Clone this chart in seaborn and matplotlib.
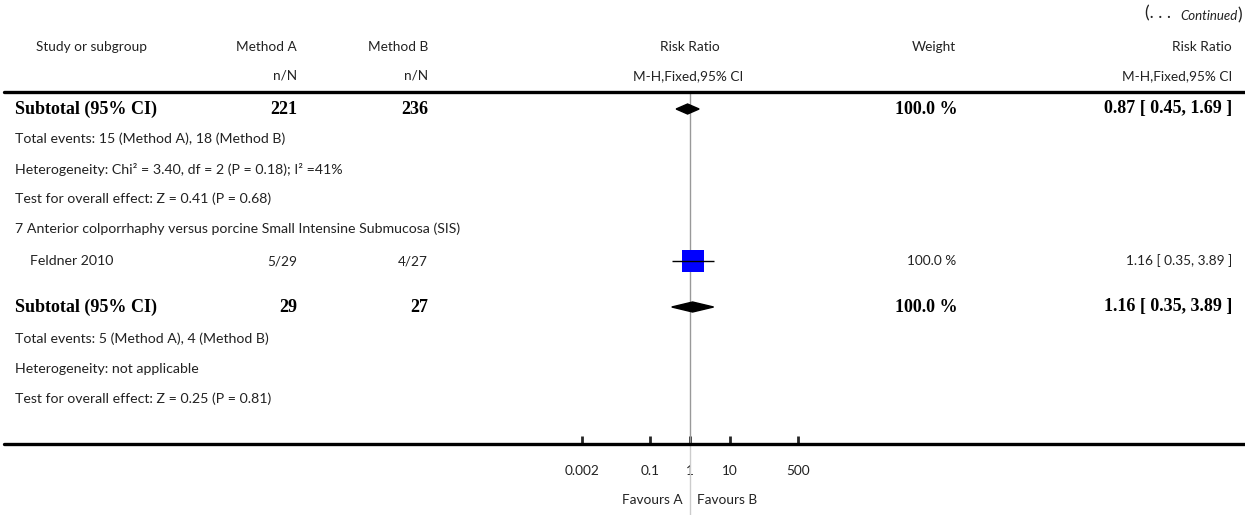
import matplotlib
matplotlib.use("Agg")
import matplotlib.pyplot as plt
import seaborn as sns
import pandas as pd
from matplotlib.lines import Line2D
from matplotlib.text import Annotation

# data
subtotal_labels = ["Subtotal (95% CI)", "Subtotal (95% CI)"]
subtotal_total_a = ["221", "29"]
subtotal_total_b = ["236", "27"]
subtotal_weight = ["100.0 %", "100.0 %"]
subtotal_rr = [0.87, 1.16]
subtotal_lo = [0.45, 0.35]
subtotal_hi = [1.69, 3.89]

study_names = ["Feldner 2010"]
study_a = ["5/29"]
study_b = ["4/27"]
study_weight = ["100.0 %"]
study_rr = [1.16]
study_lo = [0.35]
study_hi = [3.89]

summary_lines_1 = [
    "Total events: 15 (Method A), 18 (Method B)",
    "Heterogeneity: Chi\u00b2 = 3.40, df = 2 (P = 0.18); I\u00b2 =41%",
    "Test for overall effect: Z = 0.41 (P = 0.68)",
]
group_title = "7 Anterior colporrhaphy versus porcine Small Intensine Submucosa (SIS)"
summary_lines_2 = [
    "Total events: 5 (Method A), 4 (Method B)",
    "Heterogeneity: not applicable",
    "Test for overall effect: Z = 0.25 (P = 0.81)",
]
tick_values = [0.002, 0.1, 1, 10, 500]
tick_labels = ["0.002", "0.1", "1", "10", "500"]

W, H = 1245, 515
sns.set_style("white")
plt.rcParams["font.family"] = ["Lato", "DejaVu Sans"]

SANS = dict(family=["Lato", "DejaVu Sans"], fontsize=9.8, color="#222222")
BODY = dict(SANS, fontsize=10.2)
SERIF = dict(family=["Liberation Serif", "DejaVu Serif"], fontsize=13,
             fontweight="bold", color="black")

fig = plt.figure(figsize=(W / 100, H / 100), dpi=100)


def txt(x, y, s, ha="left", style=SANS):
    return fig.text(x / W, 1 - y / H, s, ha=ha, va="center", **style)


def hline(y, lw=2.4):
    fig.add_artist(Line2D([0.003, 1], [1 - y / H, 1 - y / H],
                          transform=fig.transFigure, color="black", lw=lw))


# "(... Continued)" marker, chained right to left
paren = txt(1242, 15, ")", ha="right", style=dict(SANS, fontsize=12.5))
cont = fig.add_artist(Annotation(
    "Continued", xy=(0, 0.22), xycoords=paren, ha="right", va="baseline",
    family=["Lato"], fontsize=9.5, style="italic", color="#222222"))
fig.add_artist(Annotation(
    "(. . .  ", xy=(0, 0.22), xycoords=cont, ha="right", va="baseline",
    family=["Lato"], fontsize=12.5, color="#222222"))

# header
txt(92, 47, "Study or subgroup", ha="center")
txt(297, 47, "Method A", ha="right")
txt(297, 76, "n/N", ha="right")
txt(428, 47, "Method B", ha="right")
txt(428, 76, "n/N", ha="right")
txt(690, 47, "Risk Ratio", ha="center")
txt(688, 76, "M-H,Fixed,95% CI", ha="center")
txt(956, 47, "Weight", ha="right")
txt(1232, 47, "Risk Ratio", ha="right")
txt(1232, 76, "M-H,Fixed,95% CI", ha="right")
hline(92)
hline(444)

# forest axes: 40 px per decade, 1 at x=690
ax_l, ax_r, ax_t, ax_b = 570, 810, 92, 444
ax = fig.add_axes([ax_l / W, 1 - ax_b / H, (ax_r - ax_l) / W, (ax_b - ax_t) / H])
ax.set_xscale("log")
ax.set_xlim(1e-3, 1e3)
ax.set_ylim(ax_b, ax_t)
for s in ax.spines.values():
    s.set_visible(False)
ax.set_yticks([])
ax.set_xticks(tick_values)
ax.set_xticklabels(tick_labels)
ax.xaxis.set_minor_locator(matplotlib.ticker.NullLocator())
ax.tick_params(axis="x", direction="in", length=6, width=2, pad=15,
               labelsize=9.8, labelcolor="#222222", bottom=True)
for lab in ax.get_xticklabels():
    lab.set_family(["Lato", "DejaVu Sans"])
ax.patch.set_alpha(0)

ax.axvline(1, color="#999999", lw=1, zorder=1)
ax.plot([1, 1], [ax_b, H], color="#cccccc", lw=1, clip_on=False, zorder=1)

# rows
sub_y = [109, 307]
study_y = [261]

for i, y in enumerate(sub_y):
    txt(15, y, subtotal_labels[i], style=SERIF)
    txt(297, y, subtotal_total_a[i], ha="right", style=SERIF)
    txt(428, y, subtotal_total_b[i], ha="right", style=SERIF)
    txt(958, y, subtotal_weight[i], ha="right", style=SERIF)
    txt(1232, y, f"{subtotal_rr[i]:.2f} [ {subtotal_lo[i]:.2f}, {subtotal_hi[i]:.2f} ]",
        ha="right", style=SERIF)
    ax.fill([subtotal_lo[i], subtotal_rr[i], subtotal_hi[i], subtotal_rr[i]],
            [y, y - 5, y, y + 5], color="black", zorder=3)

for lines, y0 in [(summary_lines_1, 139), (summary_lines_2, 339)]:
    for k, s in enumerate(lines):
        txt(15, y0 + 30 * k, s, style=BODY)

txt(15, 229, group_title, style=BODY)

df = pd.DataFrame({"rr": study_rr, "y": study_y})
for i, y in enumerate(study_y):
    txt(30, y, study_names[i], style=BODY)
    txt(297, y, study_a[i], ha="right")
    txt(428, y, study_b[i], ha="right")
    txt(956, y, study_weight[i], ha="right")
    txt(1232, y, f"{study_rr[i]:.2f} [ {study_lo[i]:.2f}, {study_hi[i]:.2f} ]", ha="right")
    ax.hlines(y, study_lo[i], study_hi[i], color="black", lw=1, zorder=4)
sns.scatterplot(data=df, x="rr", y="y", marker="s", s=250, color="#0000ff",
                edgecolor="none", ax=ax, zorder=3, legend=False)
ax.set_xlabel("")
ax.set_ylabel("")

txt(683, 500, "Favours A", ha="right")
txt(697, 500, "Favours B", ha="left")

fig.savefig("out.png", dpi=100)
